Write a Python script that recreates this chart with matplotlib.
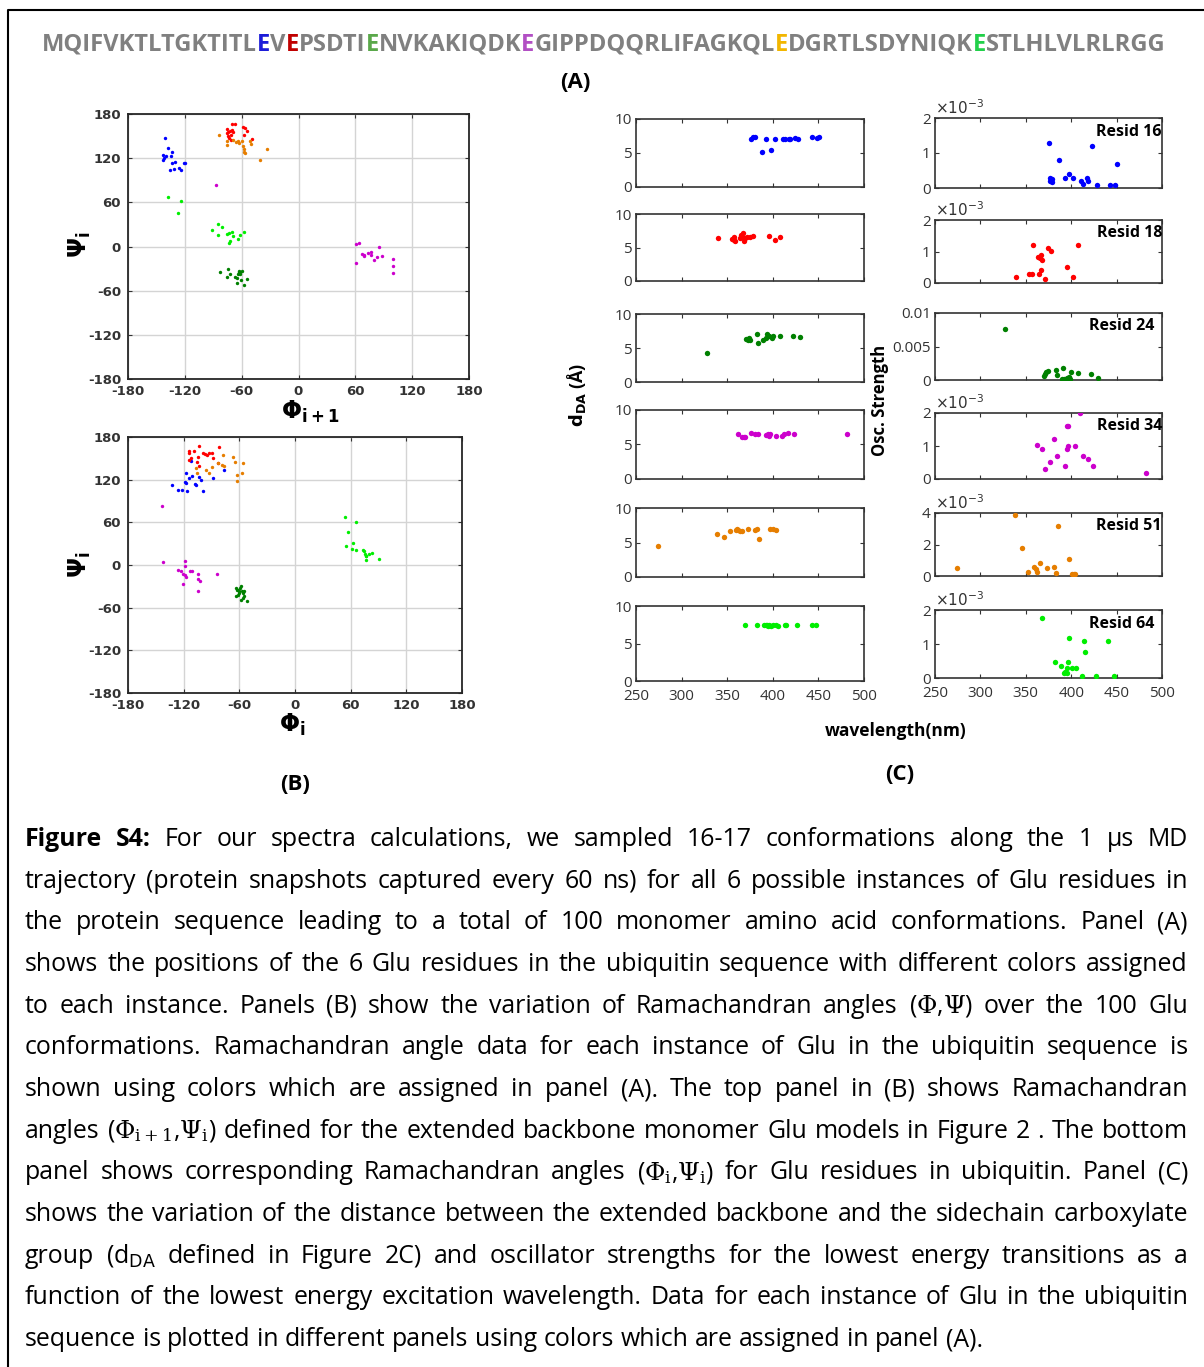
import numpy as np
import matplotlib.pyplot as plt
from matplotlib.lines import Line2D

plt.rcParams['axes.unicode_minus'] = False

W, H = 1204, 1367

# ---- panel (A): sequence ----
sequence = "MQIFVKTLTGKTITLEVEPSDTIENVKAKIQDKEGIPPDQQRLIFAGKQLEDGRTLSDYNIQKESTLHLVLRLRGG"
glu_resid = [16, 18, 24, 34, 51, 64]
seq_colors = ['#1c1cd8', '#c00000', '#5aa84a', '#b24fc4', '#f2b600', '#22d04a']
dot_colors = ['#0000ff', '#ff0000', '#008000', '#cc00cc', '#e67e00', '#00ee00']

# ---- panel (B) top: (phi_i+1, psi_i) ----
top_phi_16 = [-141, -138, -143, -140, -134, -135, -143, -142, -134, -130, -136, -131, -126, -124, -121, -120]
top_psi_16 = [147, 134, 124, 123, 129, 123, 118, 120, 113, 115, 104, 105, 106, 104, 113, 114]
top_phi_18 = [-76, -70, -67, -76, -74, -72, -70, -69, -74, -71, -73, -71, -59, -56, -54, -58, -49]
top_psi_18 = [159, 167, 166, 154, 156, 157, 158, 155, 150, 152, 147, 145, 162, 161, 157, 151, 146]
top_phi_24 = [-83, -74, -76, -72, -67, -65, -64, -63, -62, -60, -63, -61, -58, -54, -65, -62]
top_psi_24 = [-35, -30, -41, -37, -41, -49, -37, -33, -34, -33, -35, -45, -52, -44, -43, -38]
top_phi_34 = [-87, 61, 64, 61, 67, 69, 69, 73, 77, 77, 80, 83, 85, 88, 100, 100, 100]
top_psi_34 = [84, 4, 5, -23, -10, -11, -13, -9, -7, -11, -19, -14, -1, -13, -17, -27, -36]
top_phi_51 = [-84, -76, -76, -66, -64, -60, -59, -58, -58, -57, -50, -51, -33, -41, -63, -69]
top_psi_51 = [152, 144, 138, 142, 144, 144, 136, 132, 129, 127, 139, 144, 133, 118, 140, 145]
top_phi_64 = [-138, -124, -127, -91, -85, -81, -85, -75, -73, -70, -72, -73, -69, -64, -62, -58]
top_psi_64 = [67, 62, 45, 23, 30, 27, 15, 17, 18, 20, 7, 5, 14, 10, 16, 20]

# ---- panel (B) bottom: (phi_i, psi_i) ----
bot_phi_16 = [-133, -126, -122, -116, -119, -118, -117, -114, -111, -108, -107, -104, -101, -99, -88, -76, -112]
bot_psi_16 = [112, 105, 106, 104, 117, 129, 116, 123, 125, 114, 112, 124, 120, 104, 123, 134, 146]
bot_phi_18 = [-114, -114, -109, -104, -105, -99, -97, -93, -90, -88, -82, -114, -112, -106, -104, -95, -83]
bot_psi_18 = [160, 158, 160, 167, 152, 158, 156, 158, 158, 151, 166, 147, 151, 145, 139, 154, 144]
bot_phi_24 = [-64, -63, -64, -60, -59, -58, -57, -56, -55, -58, -52, -61, -60, -55, -61, -56]
bot_psi_24 = [-32, -35, -43, -40, -33, -30, -36, -40, -44, -49, -51, -42, -37, -37, -35, -46]
bot_phi_34 = [-143, -142, -119, -119, -126, -123, -121, -119, -117, -121, -113, -111, -105, -105, -102, -105, -84]
bot_psi_34 = [83, 4, 6, -1, -7, -8, -12, -14, -17, -27, -9, -9, -12, -19, -22, -36, -13]
bot_phi_51 = [-107, -96, -93, -90, -79, -78, -77, -67, -65, -63, -63, -56, -57, -83, -106]
bot_psi_51 = [136, 133, 130, 138, 141, 154, 139, 152, 145, 127, 118, 144, 130, 144, 130]
bot_phi_64 = [54, 66, 57, 63, 55, 61, 66, 73, 75, 76, 76, 80, 83, 90, 74, 77]
bot_psi_64 = [67, 61, 46, 31, 27, 22, 21, 21, 16, 12, 7, 15, 17, 8, 19, 13]

# ---- panel (C): d_DA vs wavelength ----
wl_d16 = [376, 378, 380, 388, 393, 398, 402, 411, 413, 418, 419, 424, 428, 443, 449, 451]
dda_16 = [7.0, 7.3, 7.4, 5.2, 7.1, 5.4, 7.1, 7.0, 7.0, 7.1, 7.1, 7.2, 7.1, 7.3, 7.2, 7.3]
wl_d18 = [340, 355, 357, 359, 358, 364, 365, 366, 367, 368, 369, 372, 375, 378, 396, 402, 408]
dda_18 = [6.4, 6.3, 6.15, 5.9, 6.5, 6.4, 6.8, 6.55, 7.15, 6.0, 6.4, 6.5, 6.55, 6.65, 6.65, 6.15, 6.55]
wl_d24 = [328, 371, 373, 375, 383, 384, 389, 392, 394, 396, 399, 400, 408, 422, 430, 374]
dda_24 = [4.2, 6.3, 6.2, 6.2, 7.1, 5.8, 6.2, 6.5, 7.0, 6.7, 6.5, 6.7, 6.8, 6.7, 6.6, 6.4]
wl_d34 = [362, 366, 368, 370, 376, 380, 384, 393, 395, 396, 397, 404, 410, 412, 417, 423, 481]
dda_34 = [6.5, 6.15, 6.05, 6.15, 6.7, 6.5, 6.5, 6.4, 6.55, 6.3, 6.5, 6.3, 6.3, 6.5, 6.7, 6.45, 6.45]
wl_d51 = [274, 339, 346, 353, 360, 362, 364, 366, 373, 380, 383, 385, 397, 400, 403, 361]
dda_51 = [4.5, 6.3, 5.75, 6.7, 6.85, 6.75, 6.6, 6.6, 6.9, 6.75, 6.9, 5.5, 6.95, 6.9, 6.75, 6.9]
wl_d64 = [370, 383, 390, 392, 395, 396, 398, 400, 403, 406, 413, 415, 427, 443, 447, 394]
dda_64 = [7.43, 7.43, 7.52, 7.52, 7.35, 7.43, 7.35, 7.43, 7.43, 7.35, 7.43, 7.52, 7.43, 7.52, 7.43, 7.5]

# ---- panel (C): oscillator strength (units of 1e-3) vs wavelength ----
wl_f16 = [376, 387, 423, 450, 377, 379, 377, 379, 393, 398, 402, 411, 412.5, 417, 419, 428, 443, 448]
osc_16 = [1.30, 0.81, 1.19, 0.70, 0.29, 0.27, 0.21, 0.17, 0.29, 0.40, 0.29, 0.21, 0.11, 0.29, 0.21, 0.10, 0.10, 0.10]
wl_f18 = [339, 354, 357, 358, 364, 363, 366, 366.5, 368, 367, 371, 374, 378, 395, 402, 408]
osc_18 = [0.19, 0.30, 0.30, 1.22, 0.30, 0.81, 0.78, 0.88, 0.72, 0.40, 0.12, 1.12, 1.03, 0.51, 0.19, 1.22]
wl_f24 = [327, 370, 371, 372, 374, 383, 384, 391, 390, 392, 395, 398, 400, 408, 422, 430, 399]
osc_24 = [7.6, 0.6, 0.85, 1.15, 1.4, 1.5, 0.75, 1.85, 0.15, 0.15, 0.25, 0.5, 1.25, 1.0, 0.85, 0.35, 0.15]
wl_f34 = [362, 368, 371, 377, 381, 384, 393, 395, 397, 395, 397, 404, 410, 413, 418, 424, 482]
osc_34 = [1.03, 0.91, 0.30, 0.52, 1.21, 0.69, 0.40, 1.61, 1.61, 0.91, 1.0, 1.0, 2.0, 0.69, 0.60, 0.39, 0.19]
wl_f51 = [274, 338, 346, 352, 359, 361, 362, 366, 373, 381, 383, 386, 398, 401, 403, 404]
osc_51 = [0.48, 3.85, 1.79, 0.27, 0.59, 0.42, 0.27, 0.80, 0.48, 0.59, 0.21, 3.18, 1.05, 0.10, 0.10, 0.10]
wl_f64 = [368, 382, 389, 392, 393, 395, 395, 397, 398, 401, 405, 412, 414, 415, 427, 440, 447]
osc_64 = [1.77, 0.47, 0.35, 0.15, 0.18, 0.28, 0.15, 0.47, 1.18, 0.28, 0.28, 0.06, 1.08, 0.77, 0.06, 1.08, 0.06]

osc_ylim = [2, 2, 0.01, 2, 4, 2]
osc_ticks = [[0, 1, 2], [0, 1, 2], [0, 0.005, 0.01], [0, 1, 2], [0, 2, 4], [0, 1, 2]]
osc_ticklabels = [['0', '1', '2'], ['0', '1', '2'], ['0', '0.005', '0.01'],
                  ['0', '1', '2'], ['0', '2', '4'], ['0', '1', '2']]

caption_lines = [
    "Figure S4: For our spectra calculations, we sampled 16-17 conformations along the 1 μs MD",
    "trajectory (protein snapshots captured every 60 ns) for all 6 possible instances of Glu residues in",
    "the protein sequence leading to a total of 100 monomer amino acid conformations. Panel (A)",
    "shows the positions of the 6 Glu residues in the ubiquitin sequence with different colors assigned",
    r"to each instance. Panels (B) show the variation of Ramachandran angles ($\Phi$,$\Psi$) over the 100 Glu",
    "conformations. Ramachandran angle data for each instance of Glu in the ubiquitin sequence is",
    "shown using colors which are assigned in panel (A). The top panel in (B) shows Ramachandran",
    r"angles ($\Phi_{\mathrm{i+1}}$,$\Psi_{\mathrm{i}}$) defined for the extended backbone monomer Glu models in Figure 2 . The bottom",
    r"panel shows corresponding Ramachandran angles ($\Phi_{\mathrm{i}}$,$\Psi_{\mathrm{i}}$) for Glu residues in ubiquitin. Panel (C)",
    "shows the variation of the distance between the extended backbone and the sidechain carboxylate",
    r"group (d$_{\mathrm{DA}}$ defined in Figure 2C) and oscillator strengths for the lowest energy transitions as a",
    "function of the lowest energy excitation wavelength. Data for each instance of Glu in the ubiquitin",
    "sequence is plotted in different panels using colors which are assigned in panel (A).",
]

fig = plt.figure(figsize=(W / 100, H / 100), dpi=100)
fig.patch.set_facecolor('white')
rend = fig.canvas.get_renderer()


def fx(x):
    return x / W


def fy(y):
    return 1 - y / H


def px_axes(l, t, r, b):
    return fig.add_axes([fx(l), fy(b), (r - l) / W, (b - t) / H])


# frame around the figure
fig.add_artist(Line2D([fx(8), fx(8), 1], [0, fy(10), fy(10)], color='black', lw=1.5))

# ---- sequence with coloured Glu ----
seq_kw = dict(family='Open Sans', fontweight='bold', va='center')
probe = fig.text(0, 0, sequence, fontsize=17, **seq_kw)
seq_fs = 17 * 1126 / probe.get_window_extent(rend).width
probe.remove()
pieces = []
prev = 0
for pos, c in zip(glu_resid, seq_colors):
    pieces.append((sequence[prev:pos - 1], '#808080'))
    pieces.append((sequence[pos - 1], c))
    prev = pos
pieces.append((sequence[prev:], '#808080'))
x = 42
for s, c in pieces:
    t = fig.text(fx(x), fy(45), s, color=c, fontsize=seq_fs, **seq_kw)
    x += t.get_window_extent(rend).width

lab_kw = dict(family='Open Sans', fontweight='bold', ha='center', va='center', fontsize=16)
fig.text(fx(575), fy(83), '(A)', **lab_kw)
fig.text(fx(295), fy(785), '(B)', **lab_kw)
fig.text(fx(900), fy(775), '(C)', **lab_kw)

# ---- Ramachandran plots ----
top_sets = [(top_phi_16, top_psi_16), (top_phi_18, top_psi_18), (top_phi_24, top_psi_24),
            (top_phi_34, top_psi_34), (top_phi_51, top_psi_51), (top_phi_64, top_psi_64)]
bot_sets = [(bot_phi_16, bot_psi_16), (bot_phi_18, bot_psi_18), (bot_phi_24, bot_psi_24),
            (bot_phi_34, bot_psi_34), (bot_phi_51, bot_psi_51), (bot_phi_64, bot_psi_64)]
angle_ticks = [-180, -120, -60, 0, 60, 120, 180]


def rama(ax, sets):
    for (phi, psi), c in zip(sets, dot_colors):
        ax.scatter(phi, psi, s=6, color=c, lw=0, zorder=3)
    ax.set_xlim(-180, 180)
    ax.set_ylim(-180, 180)
    ax.set_xticks(angle_ticks)
    ax.set_yticks(angle_ticks)
    ax.grid(True, color='#d4d4d4', lw=1)
    ax.set_axisbelow(True)
    ax.tick_params(direction='in', length=3, top=True, right=True, colors='#333333',
                   labelsize=9.5)
    ax.tick_params(axis='x', pad=4)
    ax.tick_params(axis='y', pad=5)
    for lab in ax.get_xticklabels() + ax.get_yticklabels():
        lab.set_fontweight('bold')
    for sp in ax.spines.values():
        sp.set_color('#262626')
        sp.set_linewidth(1.3)


ax_top = px_axes(128, 114, 469, 379)
rama(ax_top, top_sets)
ax_bot = px_axes(128, 437, 462, 693)
rama(ax_bot, bot_sets)

greek_kw = dict(ha='center', va='center', fontsize=17)
fig.text(fx(310), fy(412), r'$\mathbf{\Phi_{i+1}}$', **greek_kw)
fig.text(fx(292), fy(725), r'$\mathbf{\Phi_{i}}$', **greek_kw)
fig.text(fx(80), fy(245), r'$\mathbf{\Psi_{i}}$', rotation=90, **greek_kw)
fig.text(fx(80), fy(565), r'$\mathbf{\Psi_{i}}$', rotation=90, **greek_kw)

# ---- distance and oscillator strength panels ----
d_sets = [(wl_d16, dda_16), (wl_d18, dda_18), (wl_d24, dda_24),
          (wl_d34, dda_34), (wl_d51, dda_51), (wl_d64, dda_64)]
f_sets = [(wl_f16, osc_16), (wl_f18, osc_18), (wl_f24, osc_24),
          (wl_f34, osc_34), (wl_f51, osc_51), (wl_f64, osc_64)]
d_tops = [119, 214, 314, 410, 508, 606]
d_bots = [187, 281, 382, 479, 577, 681]
f_tops = [118, 220, 313, 413, 513, 610]
f_bots = [188, 283, 380, 479, 576, 678]
resid_x = [1.0, 1.0, 0.965, 1.0, 1.0, 0.965]
wl_ticks = [250, 300, 350, 400, 450, 500]


def small_style(ax, last):
    ax.set_xlim(250, 500)
    ax.set_xticks(wl_ticks)
    ax.tick_params(direction='in', length=3, top=True, right=True, colors='#333333',
                   labelsize=11, labelbottom=last)
    ax.tick_params(axis='x', pad=5.5)
    ax.tick_params(axis='y', pad=3)
    for lab in ax.get_xticklabels() + ax.get_yticklabels():
        lab.set_family('Open Sans')
    for sp in ax.spines.values():
        sp.set_color('#333333')
        sp.set_linewidth(1.2)


for i in range(6):
    c = dot_colors[i]
    ax = px_axes(636, d_tops[i], 864, d_bots[i])
    wl, d = d_sets[i]
    ax.scatter(wl, d, s=15, color=c, lw=0, zorder=3)
    ax.set_ylim(0, 10)
    ax.set_yticks([0, 5, 10])
    small_style(ax, i == 5)

    ax = px_axes(935, f_tops[i], 1162, f_bots[i])
    wl, f = f_sets[i]
    if i == 2:
        ax.scatter(wl, np.array(f) * 1e-3, s=15, color=c, lw=0, zorder=3)
    else:
        ax.scatter(wl, f, s=15, color=c, lw=0, zorder=3)
        ax.text(0, 1.01, r'$\times10^{-3}$', transform=ax.transAxes, ha='left', va='bottom',
                fontsize=11, color='#333333')
    ax.set_ylim(0, osc_ylim[i])
    ax.set_yticks(osc_ticks[i])
    ax.set_yticklabels(osc_ticklabels[i])
    small_style(ax, i == 5)
    ax.text(resid_x[i], 0.8, 'Resid %d' % glu_resid[i], transform=ax.transAxes,
            ha='right', va='center', family='Open Sans', fontweight='bold', fontsize=11.5)

fig.text(fx(576), fy(395), r'$\mathbf{d_{DA}}$ (Å)', rotation=90, ha='center', va='center',
         family='Open Sans', fontweight='bold', fontsize=13)
fig.text(fx(880), fy(400), 'Osc. Strength', rotation=90, ha='center', va='center',
         family='Open Sans', fontweight='bold', fontsize=12)
fig.text(fx(896), fy(731), 'wavelength(nm)', ha='center', va='center',
         family='Open Sans', fontweight='bold', fontsize=12.5)


# ---- caption, justified word by word ----
def caption_words(k, line, fs):
    arts = []
    for j, w in enumerate(line.split(' ')):
        bold = (k == 0 and j < 2)
        mf = 'dejavuserif' if ('Phi' in w or 'Psi' in w) else 'dejavusans'
        arts.append(fig.text(0, 0, w, fontsize=fs, family='Open Sans',
                             fontweight='bold' if bold else 'normal', va='baseline',
                             math_fontfamily=mf))
    return arts


# size the caption so the (unjustified) last line ends where it does in the original
probe = caption_words(1, caption_lines[-1], 15)
natural = sum(t.get_window_extent(rend).width for t in probe) + (len(probe) - 1) * 0.26 * 15 * 100 / 72
for t in probe:
    t.remove()
cap_fs = 15 * 958 / natural

x0, x1 = 25, 1188
for k, line in enumerate(caption_lines):
    y = 846 + 41.67 * k
    arts = caption_words(k, line, cap_fs)
    widths = [t.get_window_extent(rend).width for t in arts]
    if k < len(caption_lines) - 1:
        gap = (x1 - x0 - sum(widths)) / (len(arts) - 1)
    else:
        gap = 0.26 * cap_fs * 100 / 72
    x = x0
    for t, w in zip(arts, widths):
        t.set_position((fx(x), fy(y)))
        x += w + gap

fig.savefig('out.png', dpi=100)
